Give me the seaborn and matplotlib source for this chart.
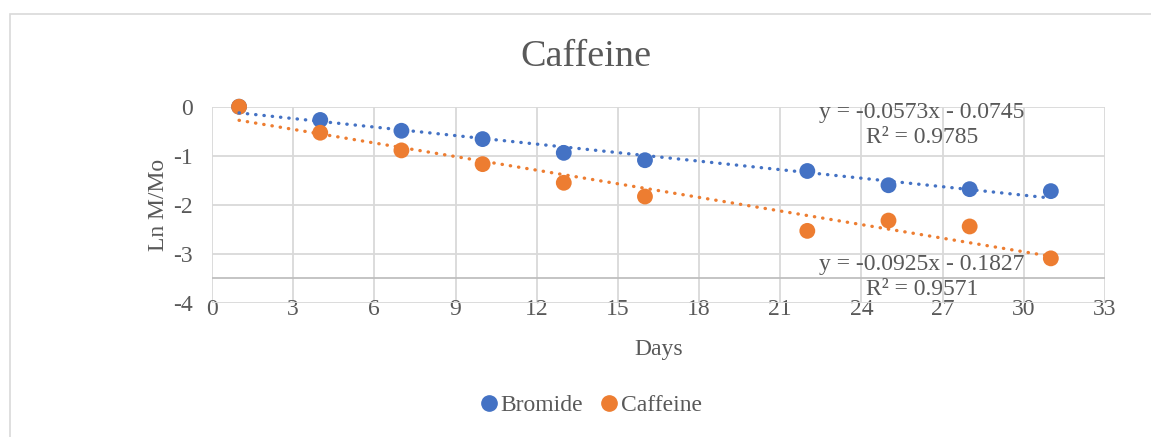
import numpy as np
import pandas as pd
import matplotlib
matplotlib.use('Agg')
import matplotlib.pyplot as plt
import seaborn as sns
from matplotlib.patches import Rectangle

days = [1, 4, 7, 10, 13, 16, 22, 25, 28, 31]
bromide = [0, -0.27, -0.49, -0.66, -0.94, -1.09, -1.31, -1.60, -1.68, -1.72]
caffeine = [0, -0.53, -0.89, -1.17, -1.55, -1.83, -2.53, -2.32, -2.44, -3.09]
series = ['Bromide', 'Caffeine']
colors = ['#4472C4', '#ED7D31']
eq_text = ['y = -0.0573x - 0.0745\nR² = 0.9785', 'y = -0.0925x - 0.1827\nR² = 0.9571']
xticks = list(range(0, 34, 3))
yticks = [0, -1, -2, -3, -4]

df = pd.DataFrame({'Days': days * 2,
                   'LnM': bromide + caffeine,
                   'Series': ['Bromide'] * len(days) + ['Caffeine'] * len(days)})

sns.set_style('white')
plt.rcParams['font.family'] = ['Liberation Serif', 'DejaVu Serif']
plt.rcParams['axes.unicode_minus'] = False
txt = '#595959'
grid_c = '#d9d9d9'
fs = 17

fig = plt.figure(figsize=(11.51, 4.37), dpi=100)
ax = fig.add_axes([0.1842, 0.3066, 0.7758, 0.4492])

# chart frame
fig.patches.append(Rectangle((0.0087, -0.1), 1.2, 1.068, transform=fig.transFigure,
                             fill=False, edgecolor=grid_c, lw=1.2))

ax.set_xlim(0, 33)
ax.set_ylim(-4, 0)
ax.set_xticks(xticks)
ax.set_yticks(yticks)
ax.grid(True, color=grid_c, lw=1.3)
ax.set_axisbelow(True)
for s in ax.spines.values():
    s.set_visible(False)
ax.axhline(-3.5, color='#bfbfbf', lw=1.3, zorder=1)

sns.scatterplot(data=df, x='Days', y='LnM', hue='Series', palette=colors,
                s=130, edgecolor='none', ax=ax, legend=False, zorder=3, clip_on=False)

for name, c in zip(series, colors):
    sns.regplot(data=df[df['Series'] == name], x='Days', y='LnM', scatter=False,
                ci=None, truncate=True, ax=ax, color=c,
                line_kws=dict(lw=2.4, linestyle=(0, (0.1, 2.4)),
                              dash_capstyle='round', zorder=4))

ax.text(26.24, -0.37, eq_text[0], ha='center', va='center', fontsize=fs,
        color=txt, linespacing=1.25)
ax.text(26.24, -3.46, eq_text[1], ha='center', va='center', fontsize=fs,
        color=txt, linespacing=1.25)

ax.tick_params(axis='both', length=0, labelsize=fs, labelcolor=txt)
ax.tick_params(axis='x', pad=-3)
ax.tick_params(axis='y', pad=14)
ax.set_xlabel('Days', fontsize=fs, color=txt, labelpad=14)
ax.set_ylabel('Ln M/Mo', fontsize=fs, color=txt, labelpad=3)

fig.text(0.509, 0.87, 'Caffeine', ha='center', va='center', fontsize=27.5, color=txt)

handles = [plt.Line2D([], [], marker='o', ls='none', color=c, markersize=11) for c in colors]
fig.legend(handles, series, loc='center', bbox_to_anchor=(0.512, 0.073), ncol=2,
           frameon=False, fontsize=fs, handletextpad=0.0, columnspacing=0.6,
           labelcolor=txt, handlelength=1.0)

fig.savefig('out.png', dpi=100)
